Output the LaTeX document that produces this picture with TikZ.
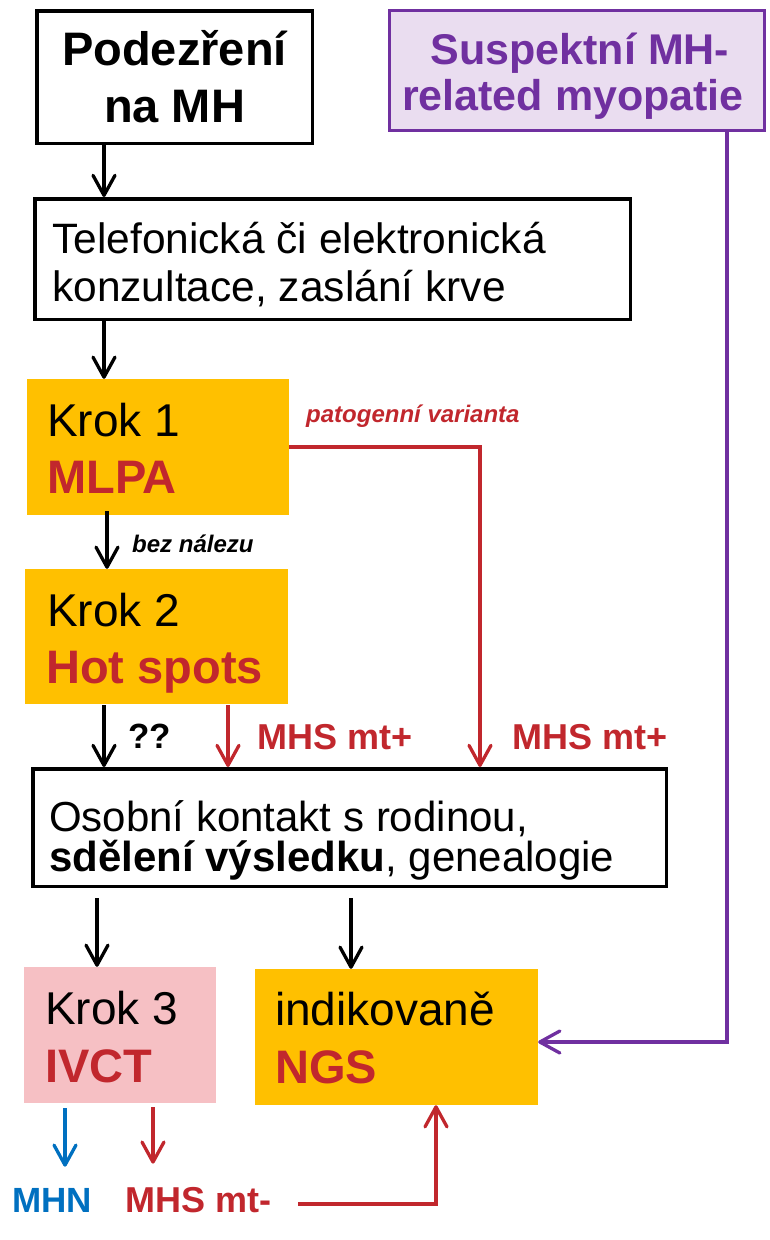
\documentclass[tikz,border=0pt]{standalone}
\usepackage{fontspec}
\setmainfont{Liberation Sans}
\usetikzlibrary{arrows.meta}

\definecolor{mhred}{HTML}{C1272D}
\definecolor{mhorange}{HTML}{FFC000}
\definecolor{mhpink}{HTML}{F6C0C4}
\definecolor{mhpurple}{HTML}{7030A0}
\definecolor{mhlilac}{HTML}{EADDF0}
\definecolor{mhblue}{HTML}{0070C0}

\newcommand\fsz[1]{\fontsize{#1}{#1}\selectfont}

\begin{document}
\begin{tikzpicture}[x=1pt,y=-1pt,
  framebox/.style={draw=black, line width=3.5pt, fill=white, inner sep=0pt},
  stepbox/.style={fill=mhorange, inner sep=0pt},
  pinkbox/.style={fill=mhpink, inner sep=0pt},
  lilacbox/.style={draw=mhpurple, line width=3pt, fill=mhlilac, inner sep=0pt},
  tl/.style={anchor=base west, inner sep=0pt},
  tc/.style={anchor=base, inner sep=0pt},
  tip/.style={-{Straight Barb[length=20pt,width=22pt,round]}},
  blk/.style={tip, draw=black, line width=3.3pt},
  redarr/.style={tip, draw=mhred, line width=3.3pt},
  purarr/.style={tip, draw=mhpurple, line width=3.3pt},
  bluarr/.style={tip, draw=mhblue, line width=3.3pt},
]
\useasboundingbox (0,0) rectangle (769,1240);

% ---- boxes ----
\node[framebox, minimum width=275.5pt, minimum height=132.5pt] (podez) at (174.5,77) {};
\node[lilacbox, minimum width=375pt, minimum height=120pt] (susp) at (577,70.5) {};
\node[framebox, minimum width=595.5pt, minimum height=120.5pt] (telef) at (332.5,259) {};
\node[stepbox, minimum width=262pt, minimum height=136pt] (krok1) at (158,447) {};
\node[stepbox, minimum width=263pt, minimum height=135pt] (krok2) at (156.5,636.5) {};
\node[framebox, minimum width=633.5pt, minimum height=117.5pt] (osobni) at (349.5,827.5) {};
\node[pinkbox, minimum width=192pt, minimum height=136pt] (krok3) at (120,1035) {};
\node[stepbox, minimum width=283pt, minimum height=136pt] (ngs) at (396.5,1037) {};

% ---- box texts ----
\node[tc] (podezA) at (174.5,65) {\fsz{47}\bfseries Podezření};
\node[tc] (podezB) at (174.5,122) {\fsz{47}\bfseries na MH};
\node[tc, text=mhpurple] (suspA) at (580,64) {\fsz{43}\bfseries Suspektní MH-};
\node[tc, text=mhpurple] (suspB) at (573,110) {\fsz{43}\bfseries related myopatie};
\node[tl] (telefA) at (52,253) {\fsz{42.5}Telefonická či elektronická};
\node[tl] (telefB) at (52,301) {\fsz{42.5}konzultace, zaslání krve};
\node[tl] (krok1A) at (47,436) {\fsz{46}Krok 1};
\node[tl, text=mhred] (krok1B) at (47,493) {\fsz{47}\bfseries MLPA};
\node[tl] (krok2A) at (47,626) {\fsz{46}Krok 2};
\node[tl, text=mhred] (krok2B) at (46,683) {\fsz{47}\bfseries Hot spots};
\node[tl] (osobniA) at (49,831) {\fsz{42}Osobní kontakt s rodinou,};
\node[tl] (osobniB) at (49,871) {\fsz{42}\textbf{sdělení výsledku}, genealogie};
\node[tl] (krok3A) at (45,1024) {\fsz{46}Krok 3};
\node[tl, text=mhred] (krok3B) at (45,1082) {\fsz{47}\bfseries IVCT};
\node[tl] (ngsA) at (275,1025) {\fsz{46}indikovaně};
\node[tl, text=mhred] (ngsB) at (275,1083) {\fsz{47}\bfseries NGS};

% ---- edge labels ----
\node[tl, text=mhred] (patog) at (306,422) {\fsz{24}\bfseries\itshape patogenní varianta};
\node[tl] (beznal) at (132,552) {\fsz{24}\bfseries\itshape bez nálezu};
\node[tl] (qq) at (128,748) {\fsz{35}\bfseries ??};
\node[tl, text=mhred] (mhsA) at (257,749) {\fsz{36}\bfseries MHS mt+};
\node[tl, text=mhred] (mhsB) at (512,749) {\fsz{36}\bfseries MHS mt+};
\node[tl, text=mhblue] (mhn) at (12,1212) {\fsz{35}\bfseries MHN};
\node[tl, text=mhred] (mhsC) at (125,1212) {\fsz{36}\bfseries MHS mt-};

% ---- connector guide coordinates ----
\coordinate (cA) at (104,0);
\coordinate (cB) at (107,0);
\coordinate (cC) at (104,0);
\coordinate (cD) at (228,0);
\coordinate (pv) at (480,447);
\coordinate (cE) at (97,0);
\coordinate (cF) at (351,0);
\coordinate (pc) at (727,1042);
\coordinate (cG) at (65,0);
\coordinate (cH) at (153,0);
\coordinate (nc) at (436,1204);

% ---- connectors ----
\draw[blk] (podez.south -| cA) -- (telef.north -| cA);
\draw[blk] (telef.south -| cA) -- (krok1.north -| cA);
\draw[blk, shorten <=-4pt] (krok1.south -| cB) -- (krok2.north -| cB);
\draw[blk, shorten <=1pt] (krok2.south -| cC) -- (osobni.north -| cC);
\draw[redarr, shorten <=1pt] (krok2.south -| cD) -- (osobni.north -| cD);
\draw[redarr] (krok1.east |- pv) -- (pv) -- (osobni.north -| pv);
\draw[blk, shorten <=10pt] (osobni.south -| cE) -- (krok3.north -| cE);
\draw[blk, shorten <=10pt] (osobni.south -| cF) -- (ngs.north -| cF);
\draw[purarr] (susp.south -| pc) -- (pc) -- (ngs.east |- pc);
\draw[bluarr, shorten <=5pt, shorten >=21pt] (krok3.south -| cG) -- (mhn.north -| cG);
\draw[redarr, shorten <=4pt, shorten >=23pt] (krok3.south -| cH) -- (mhsC.north -| cH);
\draw[redarr, shorten <=27pt] (mhsC.east |- nc) -- (nc) -- (ngs.south -| nc);
\end{tikzpicture}
\end{document}
